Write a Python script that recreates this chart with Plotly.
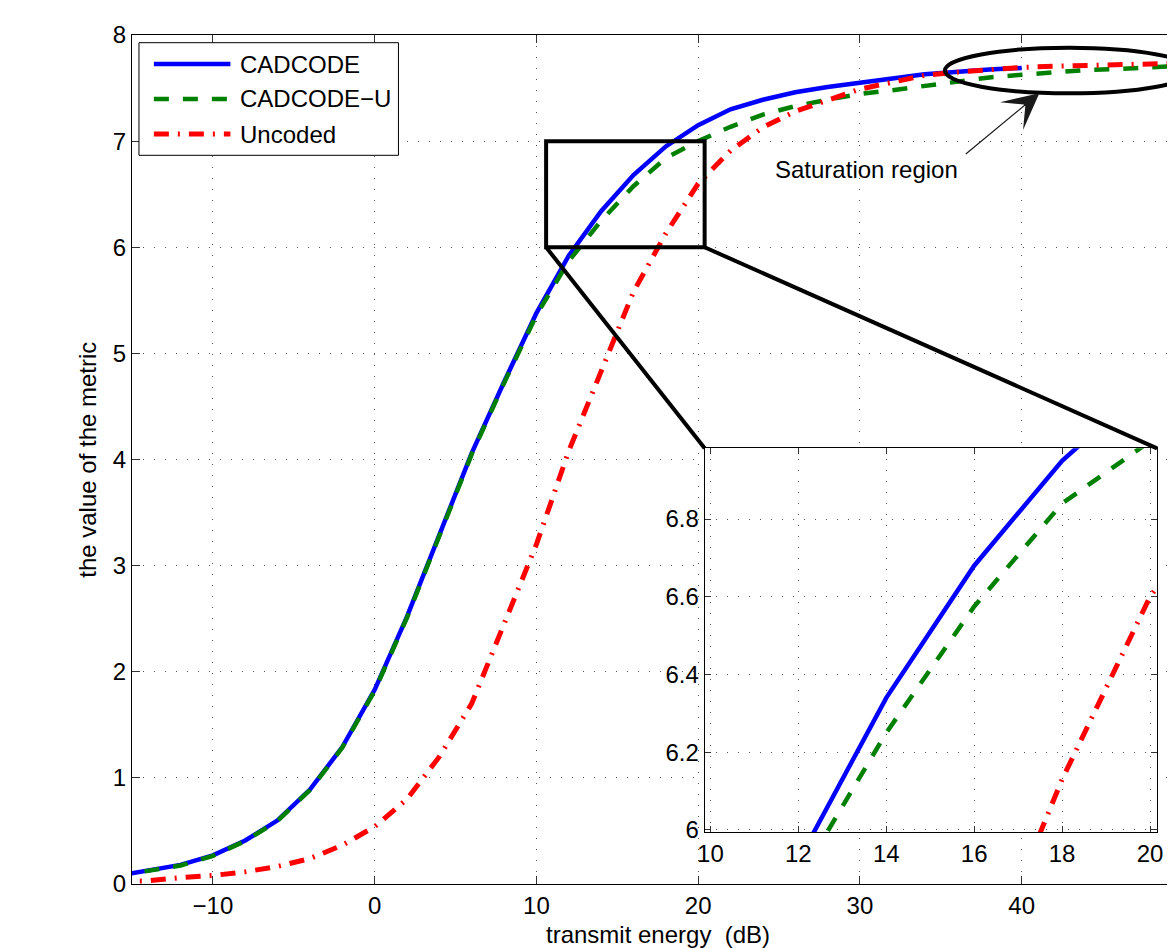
import plotly.graph_objects as go

# ---------------- data ----------------
x_cadcode = [-16, -14, -12, -10, -8, -6, -4, -2, 0, 2, 4, 6, 8, 10, 12, 14, 16, 18, 20,
             22, 24, 26, 28, 30, 32, 34, 36, 38, 40]
cadcode = [0.075, 0.125, 0.18, 0.27, 0.41, 0.60, 0.89, 1.29, 1.83, 2.52, 3.28, 4.06, 4.73,
           5.38, 5.92, 6.34, 6.68, 6.95, 7.15, 7.30, 7.39, 7.46, 7.51, 7.555, 7.59, 7.63,
           7.655, 7.675, 7.69]

x_other = [-16, -14, -12, -10, -8, -6, -4, -2, 0, 2, 4, 6, 8, 10, 12, 14, 16, 18, 20,
           22, 24, 26, 28, 30, 32, 34, 36, 38, 40, 42, 44, 46, 48, 50]
cadcode_u = [0.075, 0.12, 0.175, 0.265, 0.405, 0.595, 0.885, 1.285, 1.82, 2.51, 3.27, 4.05,
             4.72, 5.36, 5.87, 6.25, 6.575, 6.84, 7.0, 7.135, 7.25, 7.33, 7.39, 7.445, 7.48,
             7.52, 7.57, 7.60, 7.625, 7.65, 7.67, 7.68, 7.70, 7.71]
uncoded = [0.025, 0.03, 0.06, 0.08, 0.115, 0.165, 0.24, 0.365, 0.54, 0.80, 1.20, 1.70, 2.45,
           3.2, 4.08, 4.82, 5.58, 6.13, 6.6, 6.91, 7.13, 7.28, 7.39, 7.49, 7.555, 7.62, 7.65,
           7.675, 7.695, 7.705, 7.715, 7.725, 7.73, 7.735]

series_names = ["CADCODE", "CADCODE\u2212U", "Uncoded"]

x_tickvals = [-10, 0, 10, 20, 30, 40]
x_ticktext = ["\u221210", "0", "10", "20", "30", "40"]
y_tickvals = [0, 1, 2, 3, 4, 5, 6, 7, 8]
inset_x_tickvals = [10, 12, 14, 16, 18, 20]
inset_y_tickvals = [6, 6.2, 6.4, 6.6, 6.8]
inset_y_ticktext = ["6", "6.2", "6.4", "6.6", "6.8"]

# ---------------- styling / layout ----------------
W, H = 1173, 948
ML, MR, MT, MB = 132, 0, 35, 64
PW, PH = W - ML - MR, H - MT - MB
XR = [-15, -15 + PW / 16.27]
YR = [0, 8]
IX = [9.87, 20.16]
IY = [5.994, 6.982]

FONT = "Liberation Sans, Arial, Helvetica, sans-serif"
FS = 24

BLUE, GREEN, RED = "#0000FF", "#008000", "#FF0000"
DASH_G = "15px,14px"
DASH_R = "15px,9px,2px,9px"


def pxx(p):
    return (p - ML) / PW


def pxy(p):
    return (H - MB - p) / PH


def dx(v):
    return (v - XR[0]) / (XR[1] - XR[0])


def dy(v):
    return (v - YR[0]) / (YR[1] - YR[0])


inset_dom_x = [pxx(708), pxx(1163)]
inset_dom_y = [pxy(832.3), pxy(448.3)]

fig = go.Figure()

styles = [
    (x_cadcode, cadcode, BLUE, "solid", 4.5),
    (x_other, cadcode_u, GREEN, DASH_G, 4.5),
    (x_other, uncoded, RED, DASH_R, 5),
]
for (xs, ys, col, dash, w), name in zip(styles, series_names):
    fig.add_trace(go.Scatter(x=xs, y=ys, mode="lines", name=name,
                             line=dict(color=col, width=w, dash=dash),
                             showlegend=False, xaxis="x", yaxis="y"))
for (xs, ys, col, dash, w), name in zip(styles, series_names):
    fig.add_trace(go.Scatter(x=xs, y=ys, mode="lines", name=name,
                             line=dict(color=col, width=w, dash=dash),
                             showlegend=False, xaxis="x2", yaxis="y2"))

grid = dict(showgrid=True, gridcolor="#555555", gridwidth=1, griddash="1px,10px",
            zeroline=False)
axfont = dict(family=FONT, size=FS, color="black")

fig.update_layout(
    width=W, height=H, autosize=False,
    margin=dict(l=ML, r=MR, t=MT, b=MB, pad=0),
    paper_bgcolor="white", plot_bgcolor="white",
    font=dict(family=FONT, size=FS, color="black"),
    xaxis=dict(domain=[0, 1], range=XR, tickvals=x_tickvals, ticktext=x_ticktext,
               ticks="inside", ticklen=8, tickcolor="#333", showline=True,
               linecolor="black", linewidth=1, mirror="ticks", tickfont=axfont,
               anchor="y", **grid),
    yaxis=dict(domain=[0, 1], range=YR, tickvals=y_tickvals, ticks="inside", ticklen=8,
               tickcolor="#333", showline=True, linecolor="black", linewidth=1,
               mirror=False, tickfont=axfont, anchor="x", **grid),
    xaxis2=dict(domain=inset_dom_x, range=IX, tickvals=inset_x_tickvals, ticks="inside",
                ticklen=6, tickcolor="#333", showline=True, linecolor="black",
                linewidth=1, mirror="ticks", tickfont=axfont, anchor="y2", **grid),
    yaxis2=dict(domain=inset_dom_y, range=IY, tickvals=inset_y_tickvals,
                ticktext=inset_y_ticktext, ticks="inside", ticklen=6, tickcolor="#333",
                showline=True, linecolor="black", linewidth=1, mirror="ticks",
                tickfont=axfont, anchor="x2", **grid),
)

shapes = []
# zoom rectangle in main plot
shapes.append(dict(type="rect", xref="x", yref="y", x0=10.6, x1=20.4, y0=6, y1=7,
                   line=dict(color="black", width=4), layer="above"))
# connector lines to inset
shapes.append(dict(type="line", xref="paper", yref="paper", x0=dx(10.6), y0=dy(6),
                   x1=inset_dom_x[0], y1=inset_dom_y[1],
                   line=dict(color="black", width=4), layer="above"))
shapes.append(dict(type="line", xref="paper", yref="paper", x0=dx(20.4), y0=dy(6),
                   x1=inset_dom_x[1], y1=inset_dom_y[1],
                   line=dict(color="black", width=4), layer="above"))
# saturation ellipse
shapes.append(dict(type="circle", xref="x", yref="y", x0=35.25, x1=50.6, y0=7.45, y1=7.88,
                   line=dict(color="black", width=4), layer="above"))
# manual legend
shapes.append(dict(type="rect", xref="paper", yref="paper", x0=pxx(139), x1=pxx(400),
                   y0=pxy(155.3), y1=pxy(42.7), fillcolor="white",
                   line=dict(color="black", width=1), layer="above"))
leg_rows = [64, 99, 134]
for (xs, ys, col, dash, w), name, ry in zip(styles, series_names, leg_rows):
    shapes.append(dict(type="line", xref="paper", yref="paper", x0=pxx(154), x1=pxx(231),
                       y0=pxy(ry), y1=pxy(ry), line=dict(color=col, width=w, dash=dash),
                       layer="above"))

annotations = []
for name, ry in zip(series_names, leg_rows):
    annotations.append(dict(text=name, xref="paper", yref="paper", x=pxx(239), y=pxy(ry),
                            xanchor="left", yanchor="middle", showarrow=False,
                            font=dict(family=FONT, size=FS, color="black")))
# axis titles
annotations.append(dict(text="transmit energy  (dB)", xref="x", yref="paper",
                        x=(XR[0] + 50) / 2, y=pxy(934), xanchor="center",
                        yanchor="middle", showarrow=False,
                        font=dict(family=FONT, size=FS, color="black")))
annotations.append(dict(text="the value of the metric", xref="paper", yref="paper",
                        x=pxx(87), y=0.5, textangle=-90, xanchor="center",
                        yanchor="middle", showarrow=False,
                        font=dict(family=FONT, size=FS, color="black")))
# saturation label + arrow
annotations.append(dict(text="Saturation region", xref="x", yref="y", x=30.4, y=6.73,
                        xanchor="center", yanchor="middle", showarrow=False,
                        font=dict(family=FONT, size=FS, color="black")))
annotations.append(dict(text="", xref="x", yref="y", x=41.09, y=7.452, showarrow=True,
                        ax=-75, ay=62, arrowhead=3, arrowsize=5, arrowwidth=1.2,
                        arrowcolor="#1a1a1a"))

fig.update_layout(shapes=shapes, annotations=annotations)

fig.write_html(
    "out.html",
    config={"displayModeBar": False},
    post_script="document.body.style.margin='0';document.body.style.padding='0';"
                "document.body.style.overflow='hidden';",
)
